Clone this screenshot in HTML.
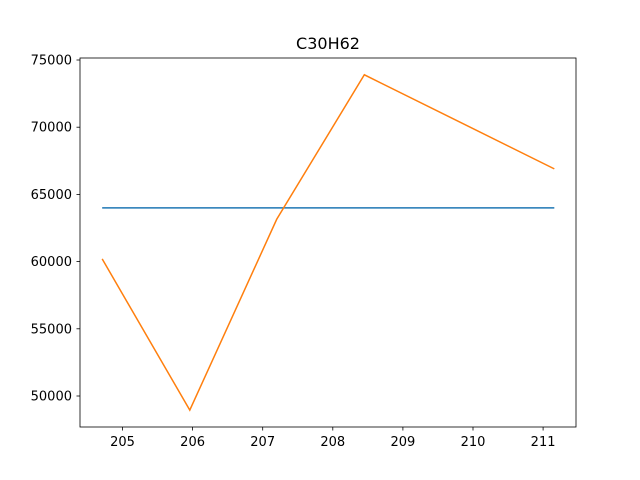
<!DOCTYPE html>
<html><head><meta charset="utf-8"><style>body{margin:0;background:#fff}svg{display:block}text{font-family:"DejaVu Sans","Liberation Sans",sans-serif;font-size:13px;fill:#000}</style></head>
<body>
<svg id="c" width="640" height="480">
<rect x="0" y="0" width="640" height="480" fill="#fff"/>
<text x="328" y="49" text-anchor="middle" style="font-size:16px">C30H62</text>
<g id="plot"></g>
<rect x="80" y="58" width="496" height="369" fill="none" stroke="#000" stroke-width="0.8"/>
</svg>
<script>
const xTicks=[205,206,207,208,209,210,211];
const yTicks=[50000,55000,60000,65000,70000,75000];
const blueX=[204.71,211.16];
const blueY=[64000,64000];
const orangeX=[204.71,205.96,207.20,208.45,211.16];
const orangeY=[60200,48950,63150,73900,66900];
const X=v=>122.5+(v-205)*70.1;
const Y=v=>60+(75000-v)*0.01344;
const ns="http://www.w3.org/2000/svg",g=document.getElementById('plot');
function mk(t,a){const e=document.createElementNS(ns,t);for(const k in a)e.setAttribute(k,a[k]);g.appendChild(e);return e;}
xTicks.forEach(v=>{
 const l=mk('line',{x1:X(v),x2:X(v),y1:427,y2:430.5,stroke:'#000','stroke-width':0.8});
 
 
 const t=mk('text',{x:X(v),y:446,'text-anchor':'middle'});t.textContent=v;
 
 
});
yTicks.forEach(v=>{
 const l=mk('line',{x1:76.5,x2:80,y1:Y(v),y2:Y(v),stroke:'#000','stroke-width':0.8});
 
 
 const t=mk('text',{x:72,y:Y(v)+4.5,'text-anchor':'end'});t.textContent=v;
 
 
});
const b=mk('polyline',{points:blueX.map((x,i)=>X(x)+','+Y(blueY[i])).join(' '),fill:'none',stroke:'#1f77b4','stroke-width':1.5});


const o=mk('polyline',{points:orangeX.map((x,i)=>X(x)+','+Y(orangeY[i])).join(' '),fill:'none',stroke:'#ff7f0e','stroke-width':1.5});


</script>
</body></html>
